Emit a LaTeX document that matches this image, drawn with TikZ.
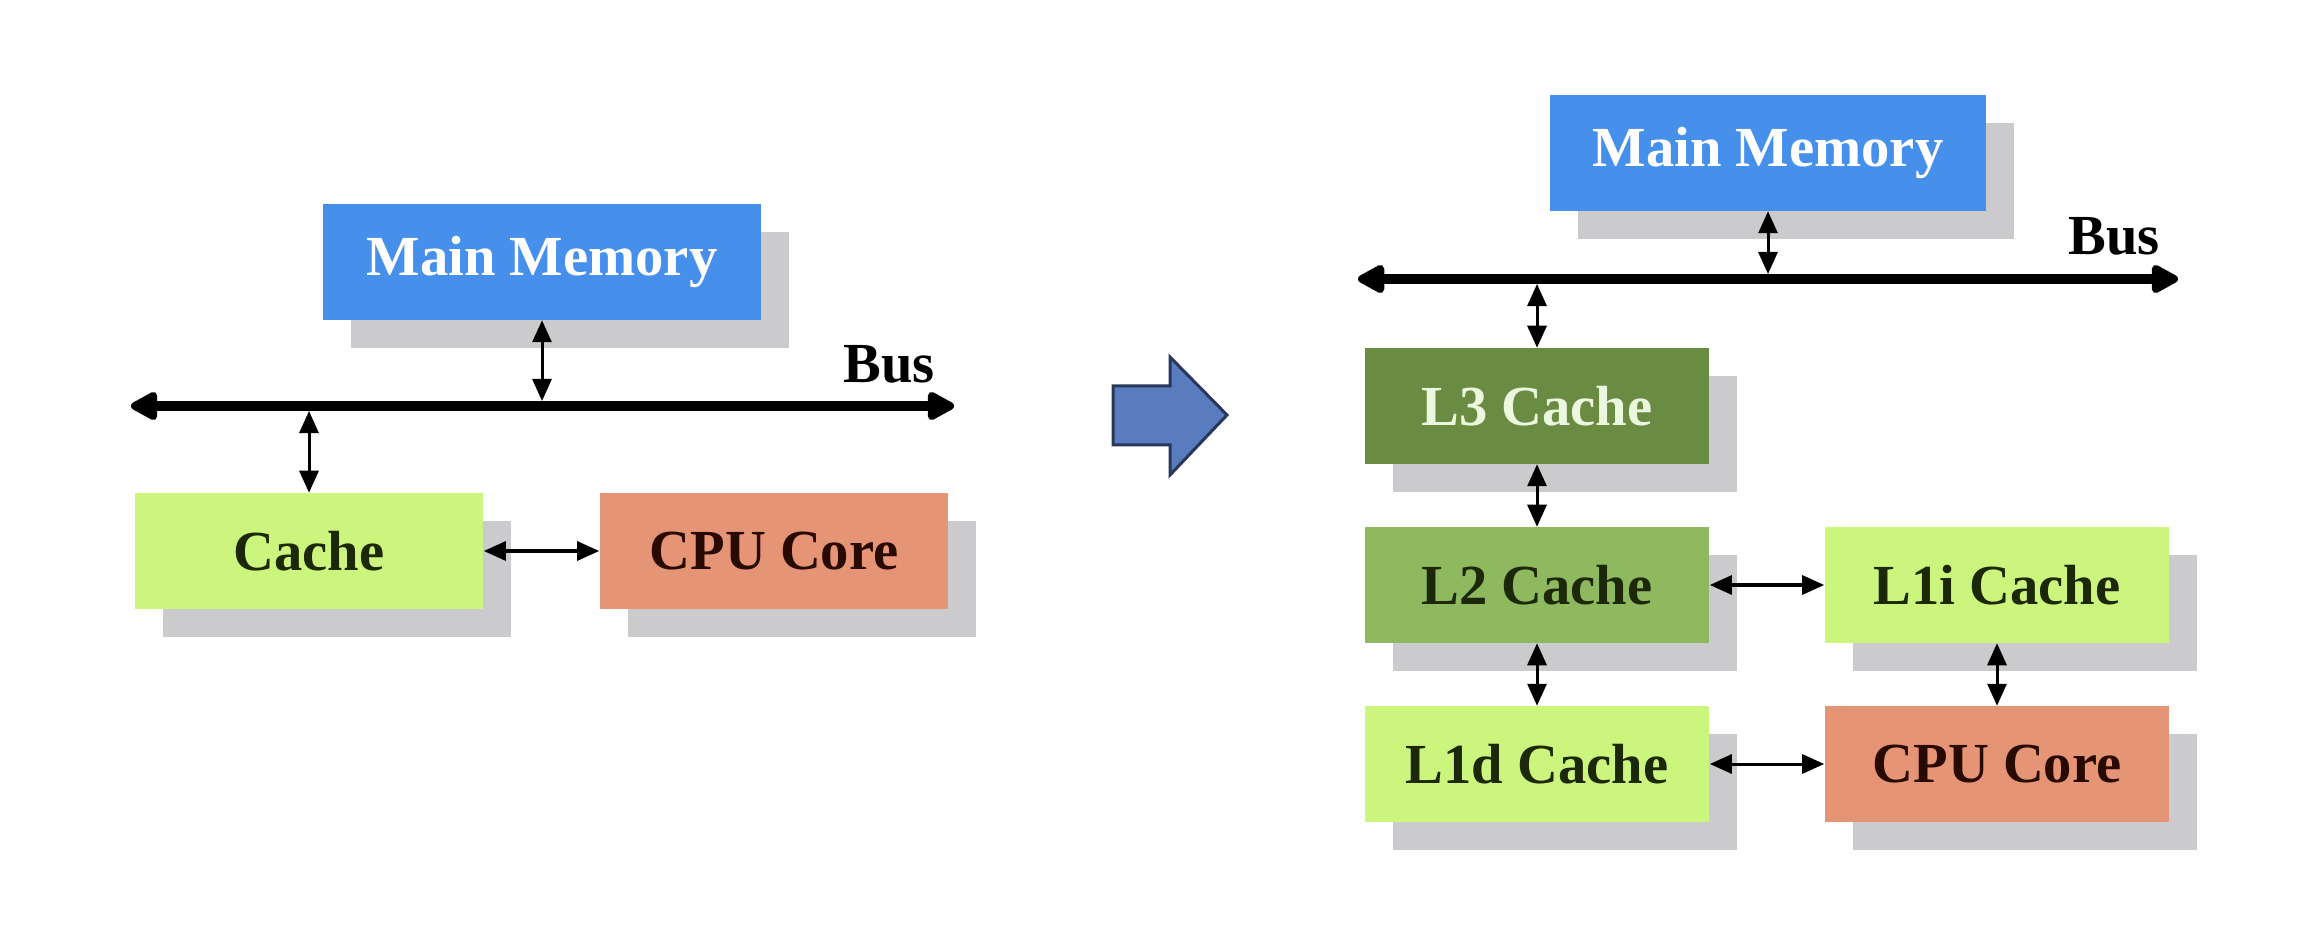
\documentclass[tikz,border=0pt]{standalone}
\usepackage{fontspec}
\setmainfont{Liberation Serif}
\usetikzlibrary{arrows.meta,shadows}
\definecolor{memblue}{RGB}{70,143,235}
\definecolor{lgreen}{RGB}{204,245,125}
\definecolor{cpuor}{RGB}{230,148,118}
\definecolor{lthree}{RGB}{106,139,66}
\definecolor{ltwo}{RGB}{142,185,94}
\definecolor{shgray}{RGB}{203,203,206}
\definecolor{arrfill}{RGB}{88,124,190}
\definecolor{arrline}{RGB}{40,55,90}
\definecolor{darktxt}{RGB}{28,40,8}
\definecolor{cputxt}{RGB}{40,10,0}
\definecolor{palegreen}{RGB}{236,248,222}
\begin{document}
\begin{tikzpicture}[x=0.01cm,y=-0.01cm,
  box/.style={rectangle, inner sep=0pt, minimum height=1.15cm,
    font=\fontsize{16.1}{19}\selectfont\bfseries,
    drop shadow={shadow xshift=0.28cm, shadow yshift=-0.28cm, fill=shgray, opacity=1}},
  wide/.style={minimum width=4.38cm},
  lbox/.style={minimum width=3.48cm},
  rbox/.style={minimum width=3.44cm},
  mem/.style={box, fill=memblue, text=white},
  lcache/.style={box, fill=lgreen, text=darktxt},
  cpu/.style={box, fill=cpuor, text=cputxt},
  lthreebox/.style={box, fill=lthree, text=palegreen},
  ltwobox/.style={box, fill=ltwo, text=darktxt},
  conn/.style={{Triangle[length=0.22cm,width=0.19cm]}-{Triangle[length=0.22cm,width=0.19cm]}, line width=0.03cm, black},
  busline/.style={{Triangle[length=0.31cm,width=0.31cm,round]}-{Triangle[length=0.31cm,width=0.31cm,round]}, line width=0.1cm, black},
  lbl/.style={font=\fontsize{16.1}{19}\selectfont\bfseries, inner sep=0pt},
  blockarrow/.style={fill=arrfill, draw=arrline, line width=0.03cm, line join=miter}
]
\useasboundingbox (0,0) rectangle (2322,928);

% ---------- left diagram ----------
\node[mem, wide] (mmL) at (542,262) {Main Memory};
\node[lcache, lbox] (cacheL) at (309,551) {Cache};
\node[cpu, lbox] (cpuL) at (774,551) {CPU Core};
\coordinate (busLa) at (131,406);
\coordinate (busLb) at (954,406);
\draw[busline] (busLa) -- (busLb);
\node[lbl] (busLlbl) at (889,364) {Bus};
\draw[conn, shorten >=0.05cm] (mmL.south) -- (mmL.south |- busLa);
\draw[conn, shorten <=0.05cm] (cacheL.north |- busLa) -- (cacheL.north);
\draw[conn] (cacheL.east) -- (cpuL.west);

% ---------- block arrow ----------
\draw[blockarrow] (1113,386) -- (1170,386) -- (1170,357) -- (1227,415)
  -- (1170,475) -- (1170,445) -- (1113,445) -- cycle;

% ---------- right diagram ----------
\node[mem, minimum width=4.36cm] (mmR) at (1768,153) {Main Memory};
\coordinate (busRa) at (1358,279);
\coordinate (busRb) at (2178,279);
\draw[busline] (busRa) -- (busRb);
\node[lbl] (busRlbl) at (2114,236) {Bus};
\node[lthreebox, rbox] (l3) at (1537,406) {L3 Cache};
\node[ltwobox, rbox] (l2) at (1537,585) {L2 Cache};
\node[lcache, rbox] (l1d) at (1537,764) {L1d Cache};
\node[lcache, rbox] (l1i) at (1997,585) {L1i Cache};
\node[cpu, rbox] (cpuR) at (1997,764) {CPU Core};
\draw[conn, shorten >=0.05cm] (mmR.south) -- (mmR.south |- busRa);
\draw[conn, shorten <=0.05cm] (l3.north |- busRa) -- (l3.north);
\draw[conn] (l3.south) -- (l2.north);
\draw[conn] (l2.south) -- (l1d.north);
\draw[conn] (l2.east) -- (l1i.west);
\draw[conn] (l1i.south) -- (cpuR.north);
\draw[conn] (l1d.east) -- (cpuR.west);
\end{tikzpicture}
\end{document}
